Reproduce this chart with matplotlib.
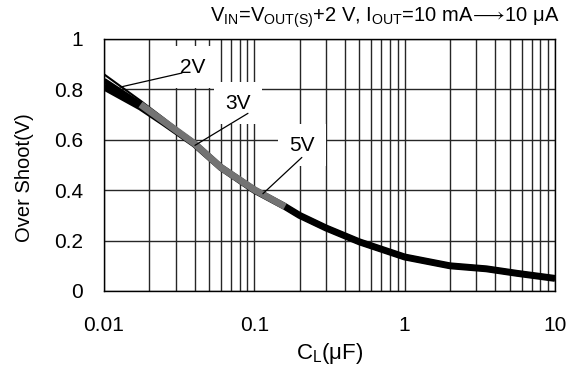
import numpy as np
import matplotlib
matplotlib.use("Agg")
import matplotlib.pyplot as plt

plt.rcParams["font.family"] = ["Liberation Sans", "DejaVu Sans"]
plt.rcParams["mathtext.fontset"] = "custom"
plt.rcParams["mathtext.rm"] = "Liberation Sans"
plt.rcParams["mathtext.it"] = "Liberation Sans:italic"
plt.rcParams["mathtext.bf"] = "Liberation Sans:bold"
plt.rcParams["mathtext.fallback"] = "stixsans"

# load capacitance (uF) and overshoot (V)
cl = np.array([0.01, 0.0175, 0.025, 0.04, 0.06, 0.1, 0.16, 0.2, 0.3, 0.5, 1.0, 2.0, 3.5, 5.6, 10])
v_2v = np.array([0.86, 0.755, 0.685, 0.59, 0.492, 0.402, 0.335, 0.30, 0.25, 0.195, 0.135, 0.10, 0.088, 0.07, 0.05])
v_3v = np.array([0.835, 0.74, 0.673, 0.585, 0.49, 0.402, 0.335, 0.30, 0.25, 0.195, 0.135, 0.10, 0.088, 0.07, 0.05])
v_5v = np.array([0.81, 0.73, 0.668, 0.583, 0.49, 0.40, 0.335, 0.30, 0.25, 0.195, 0.135, 0.10, 0.088, 0.07, 0.05])

yticks = [0, 0.2, 0.4, 0.6, 0.8, 1]
ytick_labels = ["0", "0.2", "0.4", "0.6", "0.8", "1"]
xticks = [0.01, 0.1, 1, 10]
xtick_labels = ["0.01", "0.1", "1", "10"]

fig = plt.figure(figsize=(5.76, 3.74), dpi=100)
ax = fig.add_axes([104 / 576, 1 - 291 / 374, 451 / 576, 252 / 374])

ax.set_xscale("log")
ax.set_xlim(0.01, 10)
ax.set_ylim(0, 1)
ax.set_xticks(xticks)
ax.set_xticklabels(xtick_labels)
ax.set_yticks(yticks)
ax.set_yticklabels(ytick_labels)
ax.tick_params(axis="both", which="both", length=0, labelsize=15)
ax.tick_params(axis="x", pad=18)
ax.tick_params(axis="y", pad=15)
ax.set_axisbelow(True)
ax.grid(True, which="both", axis="x", color="0.15", lw=1)
ax.grid(True, which="major", axis="y", color="0.15", lw=1)
for s in ax.spines.values():
    s.set_color("black")
    s.set_linewidth(1)

ax.plot(cl, v_5v, color="black", lw=5, solid_capstyle="butt", zorder=4)
ax.plot(cl, v_3v, color="black", lw=4, solid_capstyle="butt", zorder=4)
ax.plot(cl, v_2v, color="black", lw=1.5, zorder=4)
# grey middle stretch of the 3V curve
mid = np.ma.masked_where((cl < 0.0175) | (cl > 0.16), v_3v)
ax.plot(cl, mid, color="#737373", lw=5, solid_capstyle="butt", zorder=5)

box = dict(boxstyle="square,pad=0.55", fc="white", ec="none")
ax.text(0.0391, 0.888, "2V", fontsize=15, ha="center", va="center", bbox=box, zorder=3)
ax.text(0.0779, 0.745, "3V", fontsize=15, ha="center", va="center", bbox=box, zorder=3)
ax.text(0.2076, 0.578, "5V", fontsize=15, ha="center", va="center", bbox=box, zorder=3)
line = dict(arrowstyle="-", lw=0.9, color="black", shrinkA=0, shrinkB=0)
ax.annotate("", xy=(0.0128, 0.809), xytext=(0.033, 0.865), arrowprops=line, zorder=6)
ax.annotate("", xy=(0.0403, 0.578), xytext=(0.0907, 0.705), arrowprops=line, zorder=6)
ax.annotate("", xy=(0.114, 0.386), xytext=(0.207, 0.53), arrowprops=line, zorder=6)

ax.set_xlabel(r"C$_{\mathrm{L}}$(μF)", fontsize=16, labelpad=4)
ax.set_ylabel("Over Shoot(V)", fontsize=14.5)
ax.yaxis.set_label_coords(-0.155, 0.45)
fig.text(560 / 576, 1 - 18 / 374,
         r"V$_{\mathrm{IN}}$=V$_{\mathrm{OUT(S)}}$+2 V, I$_{\mathrm{OUT}}$=10 mA$\!\longrightarrow\!$10 μA",
         ha="right", va="center", fontsize=14.5)

plt.savefig("out.png", dpi=100)
